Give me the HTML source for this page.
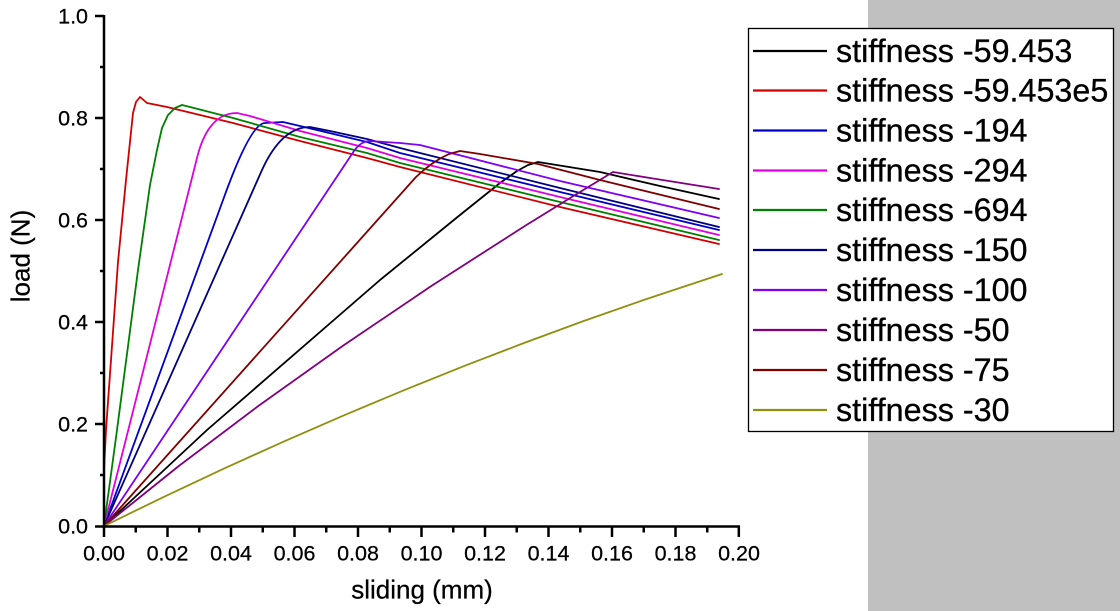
<!DOCTYPE html>
<html><head><meta charset="utf-8"><style>
html,body{margin:0;padding:0;background:#fff;}
svg{display:block;}
text{font-family:"Liberation Sans",Arial,sans-serif;fill:#000;}
</style></head><body>
<svg width="1120" height="611" viewBox="0 0 1120 611" xmlns="http://www.w3.org/2000/svg">
<rect x="0" y="0" width="1120" height="611" fill="#fff"/>
<rect x="868" y="0" width="252" height="611" fill="#c0c0c0"/>

<!-- series -->
<g fill="none" stroke-width="1.8" stroke-linejoin="round" stroke-linecap="round">
<path stroke="#000000" d="M104,526 L207,430 L380,280 L460,215 L500,183 L517,171 L528,165 L538,162 L600,172 L660,186 L719,199"/>
<path stroke="#d00000" d="M104,470 L106,430 L118,262 L126,180 L133,113 L136,102 L140,97 L147,103 L167,107 L200,115 L233,123 L300,141 L367,158 L400,167 L420,172 L560,207 L719,244"/>
<path stroke="#0000c8" d="M104,526 L224.5,196 Q251,123 265,123 L283,122 L300,126 L367,142 L400,153 L560,192 L719,230"/>
<path stroke="#e000e0" d="M104,526 L197,158 Q208,113 237,113 L250,116 L300,131 L367,148 L400,158 L560,197 L719,235"/>
<path stroke="#008000" d="M104,526 L117,430 L138,270 L150,185 L157,150 L162,128 L168,115 L175,108 L182,105 L190,107 L233,118 L300,137 L367,153 L400,163 L560,202 L719,240"/>
<path stroke="#000080" d="M104,526 L262,170 Q281.6,127 310,127 L330,131 L367,139 L400,148 L560,188 L719,227"/>
<path stroke="#8000f0" d="M104,526 L354,151 Q361,141 370,141 L400,143 L420,145 L560,181 L719,218"/>
<path stroke="#800080" d="M104,526 L178.8,466 L258.3,406 L342.6,346 L431.3,286 L524.8,226 L573.4,196 L613,172 L650,178 L719,189"/>
<path stroke="#800000" d="M104,526 L416,177 L425,169 L433,163 L441,158 L449,154 L460,151 L480,154 L538,164 L600,180 L719,209"/>
<path stroke="#909010" d="M104,526 L164,496.8 L224,468.6 L284,441.4 L344,415.3 L404,390.2 L464,366.1 L524,343 L584,320.9 L644,299.9 L722,274"/>
</g>

<!-- axes -->
<g stroke="#000" stroke-width="2.5" fill="none">
<line x1="104" y1="15" x2="104" y2="527.5"/>
<line x1="102.8" y1="526.5" x2="740" y2="526.5"/>
<line x1="95" y1="16" x2="104" y2="16"/>
<line x1="95" y1="118" x2="104" y2="118"/>
<line x1="95" y1="220" x2="104" y2="220"/>
<line x1="95" y1="322" x2="104" y2="322"/>
<line x1="95" y1="424" x2="104" y2="424"/>
<line x1="95" y1="526.5" x2="104" y2="526.5"/>
<line x1="100" y1="67" x2="104" y2="67"/>
<line x1="100" y1="169" x2="104" y2="169"/>
<line x1="100" y1="271" x2="104" y2="271"/>
<line x1="100" y1="373" x2="104" y2="373"/>
<line x1="100" y1="475" x2="104" y2="475"/>
<line x1="104" y1="526" x2="104" y2="537"/>
<line x1="167.5" y1="526" x2="167.5" y2="537"/>
<line x1="231" y1="526" x2="231" y2="537"/>
<line x1="294.5" y1="526" x2="294.5" y2="537"/>
<line x1="358" y1="526" x2="358" y2="537"/>
<line x1="421.5" y1="526" x2="421.5" y2="537"/>
<line x1="485" y1="526" x2="485" y2="537"/>
<line x1="548.5" y1="526" x2="548.5" y2="537"/>
<line x1="612" y1="526" x2="612" y2="537"/>
<line x1="675.5" y1="526" x2="675.5" y2="537"/>
<line x1="738.8" y1="526" x2="738.8" y2="537"/>
<line x1="135.75" y1="526" x2="135.75" y2="532.5"/>
<line x1="199.25" y1="526" x2="199.25" y2="532.5"/>
<line x1="262.75" y1="526" x2="262.75" y2="532.5"/>
<line x1="326.25" y1="526" x2="326.25" y2="532.5"/>
<line x1="389.75" y1="526" x2="389.75" y2="532.5"/>
<line x1="453.25" y1="526" x2="453.25" y2="532.5"/>
<line x1="516.75" y1="526" x2="516.75" y2="532.5"/>
<line x1="580.25" y1="526" x2="580.25" y2="532.5"/>
<line x1="643.75" y1="526" x2="643.75" y2="532.5"/>
<line x1="707.25" y1="526" x2="707.25" y2="532.5"/>
</g>

<!-- y tick labels -->
<g font-size="21.5" text-anchor="end" stroke="#000" stroke-width="0.25">
<text x="88" y="23.5">1.0</text>
<text x="88" y="125.5">0.8</text>
<text x="88" y="227.5">0.6</text>
<text x="88" y="329.5">0.4</text>
<text x="88" y="431.5">0.2</text>
<text x="88" y="533.5">0.0</text>
</g>
<!-- x tick labels -->
<g font-size="21.5" text-anchor="middle" stroke="#000" stroke-width="0.25">
<text x="104" y="560.5">0.00</text>
<text x="167.5" y="560.5">0.02</text>
<text x="231" y="560.5">0.04</text>
<text x="294.5" y="560.5">0.06</text>
<text x="358" y="560.5">0.08</text>
<text x="421.5" y="560.5">0.10</text>
<text x="485" y="560.5">0.12</text>
<text x="548.5" y="560.5">0.14</text>
<text x="612" y="560.5">0.16</text>
<text x="675.5" y="560.5">0.18</text>
<text x="739" y="560.5">0.20</text>
</g>

<!-- axis titles -->
<text x="422" y="598.5" font-size="26" text-anchor="middle" stroke="#000" stroke-width="0.25">sliding (mm)</text>
<text transform="translate(29.5,256) rotate(-90)" font-size="26" text-anchor="middle" stroke="#000" stroke-width="0.25">load (N)</text>

<!-- legend -->
<rect x="748.5" y="28.5" width="365" height="403" fill="#fff" stroke="#000" stroke-width="1.3"/>
<g stroke-width="2.2">
<line x1="753" y1="51" x2="827" y2="51" stroke="#000000"/>
<line x1="753" y1="90.5" x2="827" y2="90.5" stroke="#d00000"/>
<line x1="753" y1="130.5" x2="827" y2="130.5" stroke="#0000c8"/>
<line x1="753" y1="170.5" x2="827" y2="170.5" stroke="#e000e0"/>
<line x1="753" y1="210" x2="827" y2="210" stroke="#008000"/>
<line x1="753" y1="250" x2="827" y2="250" stroke="#000080"/>
<line x1="753" y1="290" x2="827" y2="290" stroke="#8000f0"/>
<line x1="753" y1="330" x2="827" y2="330" stroke="#800080"/>
<line x1="753" y1="370" x2="827" y2="370" stroke="#800000"/>
<line x1="753" y1="410" x2="827" y2="410" stroke="#909010"/>
</g>
<g font-size="32.3" stroke="#000" stroke-width="0.3">
<text x="836" y="62">stiffness -59.453</text>
<text x="836" y="101.5">stiffness -59.453e5</text>
<text x="836" y="141.5">stiffness -194</text>
<text x="836" y="181.5">stiffness -294</text>
<text x="836" y="221">stiffness -694</text>
<text x="836" y="261">stiffness -150</text>
<text x="836" y="301">stiffness -100</text>
<text x="836" y="341">stiffness -50</text>
<text x="836" y="381">stiffness -75</text>
<text x="836" y="421">stiffness -30</text>
</g>
</svg>
</body></html>
